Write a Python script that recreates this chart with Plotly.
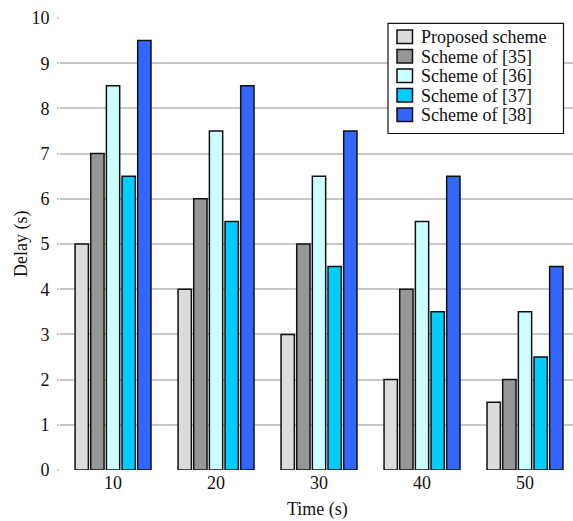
import plotly.graph_objects as go

times = [10, 20, 30, 40, 50]
series_names = ["Proposed scheme", "Scheme of [35]", "Scheme of [36]", "Scheme of [37]", "Scheme of [38]"]
proposed = [5, 4, 3, 2, 1.5]
s35 = [7, 6, 5, 4, 2]
s36 = [8.5, 7.5, 6.5, 5.5, 3.5]
s37 = [6.5, 5.5, 4.5, 3.5, 2.5]
s38 = [9.5, 8.5, 7.5, 6.5, 4.5]
colors = ["#dcdcdc", "#969696", "#ccffff", "#00ccff", "#3366ff"]
y_ticks = list(range(0, 11))
x_title = "Time (s)"
y_title = "Delay (s)"

W, H = 573, 521
ML, MR, MT, MB = 60, 0, 18, 51
PW, PH = W - ML - MR, H - MT - MB


def px_x(px):
    return (px - ML) / PW


def px_y(py):
    return (H - MB - py) / PH


font_family = "'Liberation Serif', 'Times New Roman', Times, serif"
edge = "#111111"

fig = go.Figure()
for name, vals, c in zip(series_names, [proposed, s35, s36, s37, s38], colors):
    fig.add_trace(go.Bar(x=times, y=vals, name=name, showlegend=False,
                         marker=dict(color=c, line=dict(color=edge, width=1.5))))

# custom legend (box, swatches, labels)
shapes = [dict(type="rect", xref="paper", yref="paper",
               x0=px_x(388), x1=px_x(563.5), y0=px_y(133.5), y1=px_y(23.3),
               line=dict(color=edge, width=1.2), fillcolor="white", layer="above")]
annotations = []
for i, (name, c) in enumerate(zip(series_names, colors)):
    cy = 36.7 + 19.5 * i
    shapes.append(dict(type="rect", xref="paper", yref="paper",
                       x0=px_x(397), x1=px_x(412.5), y0=px_y(cy + 6.7), y1=px_y(cy - 6.7),
                       line=dict(color=edge, width=1.5), fillcolor=c, layer="above"))
    annotations.append(dict(xref="paper", yref="paper", x=px_x(419), y=px_y(cy + 0.5),
                            xanchor="left", yanchor="middle", text=name, showarrow=False,
                            font=dict(family=font_family, size=18, color=edge)))

# axis titles
annotations.append(dict(xref="paper", yref="paper", x=px_x(317), y=px_y(509),
                        xanchor="center", yanchor="middle", text=x_title, showarrow=False,
                        font=dict(family=font_family, size=18, color=edge)))
annotations.append(dict(xref="paper", yref="paper", x=px_x(21), y=px_y(244),
                        xanchor="center", yanchor="middle", text=y_title, showarrow=False,
                        textangle=-90, font=dict(family=font_family, size=18, color=edge)))

fig.update_layout(
    width=W, height=H,
    margin=dict(l=ML, r=MR, t=MT, b=MB),
    paper_bgcolor="white", plot_bgcolor="white",
    barmode="group", bargap=0.24, bargroupgap=0.15,
    font=dict(family=font_family, size=18, color=edge),
    showlegend=False,
    shapes=shapes, annotations=annotations,
    xaxis=dict(range=[4.85, 54.66], tickvals=times, ticktext=[str(t) for t in times],
               showgrid=False, zeroline=False, showline=False, ticks="",
               automargin=False),
    yaxis=dict(range=[0, 10], tickvals=y_ticks, showgrid=True, gridcolor="#c8c8c8",
               gridwidth=1.5, zeroline=False, showline=False, ticks="outside",
               ticklen=2, tickcolor="#c8c8c8", tickwidth=1.5, automargin=False,
               ticklabelstandoff=4),
)
fig.write_html("out.html", config={"displayModeBar": False},
               post_script="document.body.style.margin='0';document.body.style.overflow='hidden';")
